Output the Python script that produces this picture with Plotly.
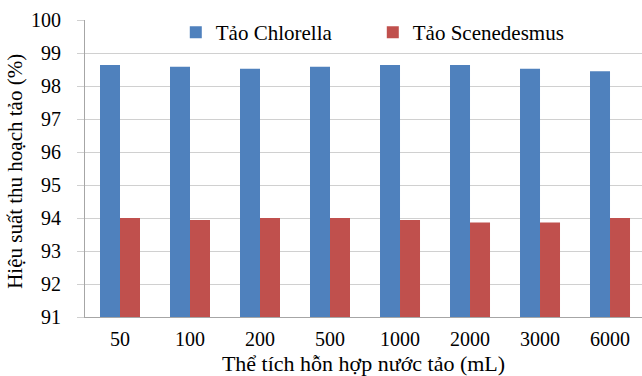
import plotly.graph_objects as go

# Harvesting efficiency by volume of algae mixture
volumes = ["50", "100", "200", "500", "1000", "2000", "3000", "6000"]
chlorella = [98.64, 98.58, 98.52, 98.58, 98.64, 98.64, 98.52, 98.45]
scenedesmus = [94.00, 93.94, 94.00, 94.00, 93.94, 93.86, 93.86, 94.00]
y_ticks = [91, 92, 93, 94, 95, 96, 97, 98, 99, 100]

FONT = "Liberation Serif, Times New Roman, serif"
GRID = "#d0d0d0"

fig = go.Figure()
fig.add_trace(go.Bar(name="Tảo Chlorella", x=volumes, y=chlorella,
                     marker=dict(color="#4F81BD", line=dict(width=0))))
fig.add_trace(go.Bar(name="Tảo Scenedesmus", x=volumes, y=scenedesmus,
                     marker=dict(color="#C0504D", line=dict(width=0))))

fig.update_layout(
    width=642, height=376,
    margin=dict(l=85, r=0, t=20, b=59),
    paper_bgcolor="white", plot_bgcolor="white",
    barmode="group", bargap=30 / 70, bargroupgap=0,
    font=dict(family=FONT, size=20, color="#000000"),
    showlegend=True,
    legend=dict(orientation="h", x=0.163, y=1.027, xanchor="left", yanchor="top",
                font=dict(family=FONT, size=21), bgcolor="rgba(0,0,0,0)",
                itemwidth=30, entrywidth=152, entrywidthmode="pixels"),
    xaxis=dict(type="category", range=[-0.5, 7.457],
               showline=True, linecolor="#a6a6a6", linewidth=1,
               ticks="", showgrid=False, ticklabelstandoff=4,
               tickfont=dict(family=FONT, size=20),
               title=dict(text="Thể tích hỗn hợp nước tảo (mL)",
                          font=dict(family=FONT, size=22), standoff=8)),
    yaxis=dict(range=[91, 100], tickvals=y_ticks,
               showline=True, linecolor="#a6a6a6", linewidth=1,
               ticks="outside", ticklen=7, tickcolor=GRID,
               showgrid=True, gridcolor=GRID, gridwidth=1,
               zeroline=False, ticklabelstandoff=12,
               tickfont=dict(family=FONT, size=20)),
    annotations=[dict(text="Hiệu suất thu hoạch tảo (%)", textangle=-90,
                      xref="paper", yref="paper", x=-0.1257, y=0.492,
                      xanchor="center", yanchor="middle", showarrow=False,
                      font=dict(family=FONT, size=21))],
)

fig.write_html("out.html")
